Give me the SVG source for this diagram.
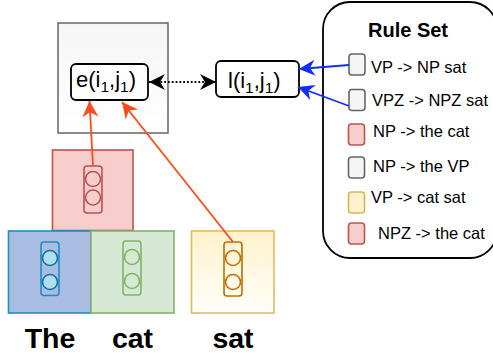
<svg xmlns="http://www.w3.org/2000/svg" width="493" height="355" viewBox="0 0 493 355">
<style>
text{font-family:"Liberation Sans",Arial,sans-serif;fill:#000}
.rule{font-size:16.5px}
.word{font-size:28.5px;font-weight:bold;text-anchor:middle}
.head{font-size:20px;font-weight:bold;text-anchor:middle}
.cell{font-size:22px}
.sub{font-size:15.5px}
.bx{stroke-width:1.6}
.tile{fill:none;stroke-width:1.6}
.dot{stroke-width:1.6}
.sw{stroke-width:1.6}
.red{fill:#f8cecc;stroke:#b85450}
.gray{fill:#f5f5f5;stroke:#666}
.yel{fill:#fff2cc;stroke:#d6b656}
.grn{fill:#d5e8d4;stroke:#82b366}
.inner{fill:#fff;stroke:#000;stroke-width:1.8}
.c-o{stroke:#ff4a1c;stroke-width:1.8;fill:none}
.c-b{stroke:#0f2fff;stroke-width:1.8;fill:none}
.c-d{stroke:#000;stroke-width:1.8;fill:none;stroke-dasharray:1.8 2}
</style>
<defs>
<linearGradient id="gGray" x1="0" y1="0" x2="0" y2="1"><stop offset="0" stop-color="#f5f5f5"/><stop offset="1" stop-color="#fff"/></linearGradient>
<linearGradient id="gYel" x1="0" y1="0" x2="0" y2="1"><stop offset="0" stop-color="#fff2cc"/><stop offset="1" stop-color="#fffefa"/></linearGradient>
<marker id="aO" markerUnits="userSpaceOnUse" markerWidth="20" markerHeight="20" refX="16" refY="8" orient="auto" viewBox="0 0 20 16"><path d="M16 8L0 0L5 8L0 16Z" fill="#ff4a1c"/></marker>
<marker id="aB" markerUnits="userSpaceOnUse" markerWidth="20" markerHeight="20" refX="16" refY="8" orient="auto" viewBox="0 0 20 16"><path d="M16 8L0 0L5 8L0 16Z" fill="#0f2fff"/></marker>
<marker id="aK" markerUnits="userSpaceOnUse" markerWidth="20" markerHeight="20" refX="16" refY="8" orient="auto-start-reverse" viewBox="0 0 20 16"><path d="M16 8L0 0L5 8L0 16Z" fill="#000"/></marker>
</defs>
<g id="span-box"><rect class="bx" x="58" y="23" width="110" height="110" fill="url(#gGray)" stroke="#6e6e6e"/></g>
<g id="red-span"><rect class="bx red" x="52.500" y="150" width="80.500" height="80.500"/><rect class="tile" x="84" y="166" width="18" height="47" rx="3" stroke="#b85450"/><circle class="dot" cx="93" cy="179" r="7.500" fill="none" stroke="#b85450"/><circle class="dot" cx="93" cy="197.500" r="7.500" fill="none" stroke="#b85450"/></g>
<g id="word-the"><rect class="bx" x="8.500" y="231" width="82.500" height="82" fill="#a9bde3" stroke="#1b8fc4"/><rect class="tile" x="41" y="242" width="18" height="53.500" rx="3" stroke="#1b8fc4"/><circle class="dot" cx="50" cy="258" r="7.500" fill="#b1ddf0" stroke="#10739e"/><circle class="dot" cx="50" cy="282" r="7.500" fill="#b1ddf0" stroke="#10739e"/><text class="word" x="50" y="348">The</text></g>
<g id="word-cat"><rect class="bx grn" x="91" y="231" width="83" height="82"/><rect class="tile" x="123" y="241" width="18" height="54" rx="3" stroke="#82b366"/><circle class="dot" cx="132" cy="257" r="7.500" fill="none" stroke="#82b366"/><circle class="dot" cx="132" cy="281" r="7.500" fill="none" stroke="#82b366"/><text class="word" x="132.500" y="348">cat</text></g>
<g id="word-sat"><rect class="bx" x="191.500" y="231" width="82.500" height="82" fill="url(#gYel)" stroke="#e0bb60"/><rect class="tile" x="224" y="242" width="18" height="54" rx="3" stroke="#bd7000"/><circle class="dot" cx="233" cy="258" r="7.500" fill="none" stroke="#bd7000"/><circle class="dot" cx="233" cy="282" r="7.500" fill="none" stroke="#bd7000"/><text class="word" x="233" y="348">sat</text></g>
<g id="e-node"><rect class="inner" x="71" y="64" width="77" height="36" rx="5"/><text class="cell" x="76" y="87">e(i<tspan class="sub" dy="5">1</tspan><tspan dy="-5">,j</tspan><tspan class="sub" dy="5">1</tspan><tspan dy="-5">)</tspan></text></g>
<g id="l-node"><rect class="inner" x="216" y="61" width="83" height="36" rx="5"/><text class="cell" x="228" y="87.500">l(i<tspan class="sub" dy="5">1</tspan><tspan dy="-5">,j</tspan><tspan class="sub" dy="5">1</tspan><tspan dy="-5">)</tspan></text></g>
<g id="rule-set"><rect x="323" y="2" width="174" height="256" rx="27" fill="#fff" stroke="#000" stroke-width="1.800"/><text class="head" x="408" y="37">Rule Set</text>
<rect class="sw gray" x="349" y="54" width="16" height="21" rx="3"/><text class="rule" x="371" y="73">VP -&gt; NP sat</text>
<rect class="sw gray" x="349" y="89.500" width="16" height="21" rx="3"/><text class="rule" x="372" y="106">VPZ -&gt; NPZ sat</text>
<rect class="sw red" x="348.500" y="124" width="16" height="21" rx="3"/><text class="rule" x="373" y="137">NP -&gt; the cat</text>
<rect class="sw gray" x="348.500" y="157" width="16" height="21" rx="3"/><text class="rule" x="373" y="172">NP -&gt; the VP</text>
<rect class="sw yel" x="348.500" y="192" width="16" height="21" rx="3"/><text class="rule" x="371" y="203">VP -&gt; cat sat</text>
<rect class="sw red" x="348.500" y="223" width="16" height="21" rx="3"/><text class="rule" x="378" y="239">NPZ -&gt; the cat</text></g>
<g id="connectors">
<path class="c-o" d="M93 166L89.500 101" marker-end="url(#aO)"/>
<path class="c-o" d="M233 242L122 102" marker-end="url(#aO)"/>
<path class="c-b" d="M349 65L299 69" marker-end="url(#aB)"/>
<path class="c-b" d="M349 106L298 87" marker-end="url(#aB)"/>
<path class="c-d" d="M149 82L216 82" marker-start="url(#aK)" marker-end="url(#aK)"/>
</g>
</svg>
